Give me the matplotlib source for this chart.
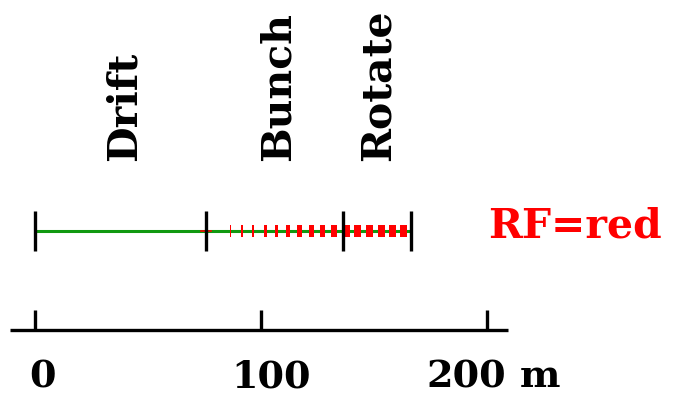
import matplotlib
matplotlib.use("Agg")
import matplotlib.pyplot as plt
from matplotlib.patches import Rectangle

# Section boundaries along the beamline (m)
section_edges = [0.0, 75.7, 136.3, 166.4]
section_names = ["Drift", "Bunch", "Rotate"]

# RF cavity centres (m) and voltages (drawn as cavity width, arb. units)
bunch_pos = [81.4, 86.4, 91.6, 96.6, 101.8, 106.9, 111.9, 117.1, 122.3, 127.3, 132.4]
bunch_volt = [0.30, 0.45, 0.88, 1.02, 1.33, 1.46, 1.77, 1.90, 2.08, 2.21, 2.52]
rotate_pos = [137.9, 142.9, 148.1, 153.1, 158.1, 163.1]
rotate_volt = [3.1, 3.1, 3.1, 3.1, 3.1, 3.1]

# Scale axis ticks (m)
scale_ticks = [0, 100, 200]
scale_labels = ["0", "100", "200"]

FONT = dict(fontfamily="DejaVu Serif", fontweight="bold")
FS_LABEL = 29.5
FS_SCALE = 27.5
W, H = 674, 396
PX_PER_M = 2.26
X0_PX = 35


def px2m(px):
    return (px - X0_PX) / PX_PER_M


fig = plt.figure(figsize=(W / 100, H / 100), dpi=100)
ax = fig.add_axes([0, 0, 1, 1])
ax.set_xlim(px2m(0), px2m(W))
ax.set_ylim(H, 0)
ax.axis("off")

line_y = 231
# beamline
ax.plot([section_edges[0], section_edges[-1]], [line_y, line_y], color="#119911",
        lw=2.2, solid_capstyle="butt", zorder=2)
for e in section_edges:
    ax.plot([e, e], [211, 251], color="black", lw=2.4, solid_capstyle="butt", zorder=4)

# zero-voltage cavity at the start of the buncher
ax.plot([section_edges[1] - 2.2, section_edges[1] + 2.2], [line_y, line_y],
        color="red", lw=1.2, zorder=3)

for pos, v in zip(bunch_pos + rotate_pos, bunch_volt + rotate_volt):
    ax.add_patch(Rectangle((pos - v / 2, 225), v, 12, facecolor="red",
                           edgecolor="none", zorder=3))

# section labels, written upwards
label_px = [125, 279, 379]
for px, name in zip(label_px, section_names):
    ax.text(px2m(px), 161, name, rotation=90, ha="center", va="bottom",
            fontsize=FS_LABEL, color="black", **FONT)

ax.text(px2m(488), 238, "RF=red", ha="left", va="baseline",
        fontsize=FS_LABEL, color="red", **FONT)

# distance scale
axis_y = 330
ax.plot([px2m(10), px2m(508)], [axis_y, axis_y], color="black", lw=2.4,
        solid_capstyle="butt")
for t in scale_ticks:
    ax.plot([t, t], [310, axis_y], color="black", lw=2.4, solid_capstyle="butt")
tick_label_px = [42.5, 271.5, 466.5]
for px, lab in zip(tick_label_px, scale_labels):
    ax.text(px2m(px), 387, lab, ha="center", va="baseline", fontsize=FS_SCALE, **FONT)
ax.text(px2m(520), 387, "m", ha="left", va="baseline", fontsize=FS_SCALE, **FONT)

fig.savefig("out.png", dpi=100)
